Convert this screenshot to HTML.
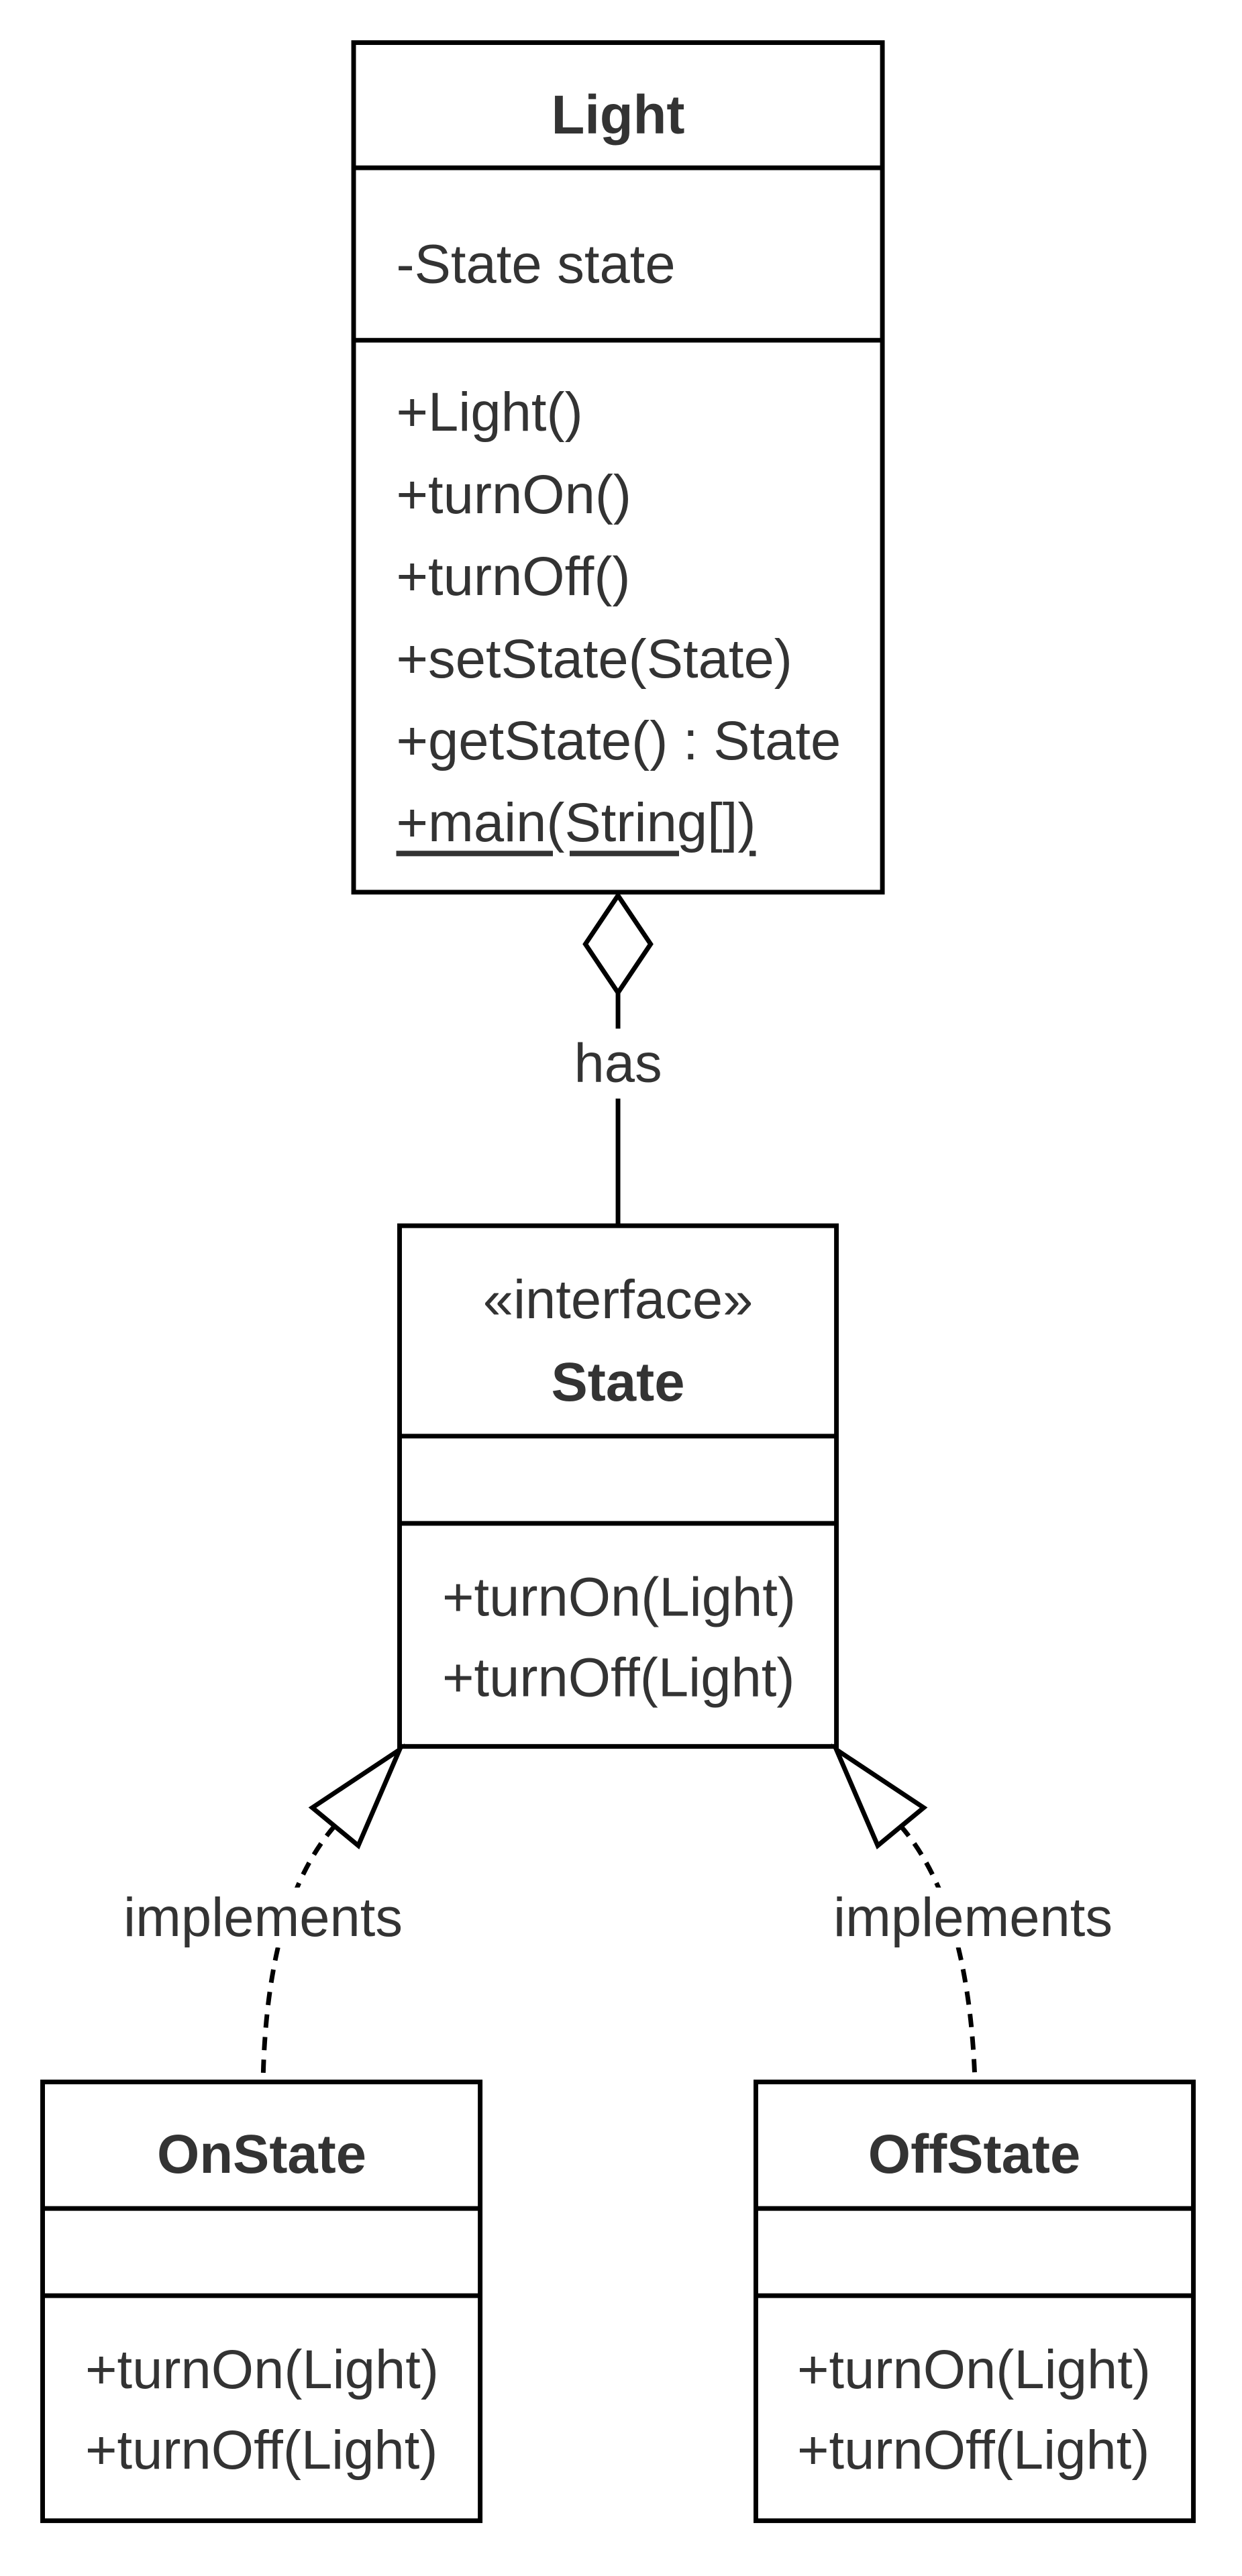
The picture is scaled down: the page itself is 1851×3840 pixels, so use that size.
<!DOCTYPE html>
<html><head><meta charset="utf-8"><style>
html,body{margin:0;padding:0;background:#fff;}
svg{display:block;}
text{font-family:"Liberation Sans",Arial,sans-serif;fill:#333;font-size:82px;dominant-baseline:central;}
.b{font-weight:bold;}
</style></head><body>
<svg width="1851" height="3840" viewBox="0 0 1851 3840" xmlns="http://www.w3.org/2000/svg">
<g transform="scale(0.9925)">
<g fill="none" stroke="#000" stroke-width="7">
<rect x="531" y="64" width="794" height="1276" fill="#fff"/>
<line x1="531" y1="252" x2="1325" y2="252"/>
<line x1="531" y1="511" x2="1325" y2="511"/>
<polygon points="928,1345 977,1418 928,1491 879,1418" fill="#fff"/>
<line x1="928" y1="1491" x2="928" y2="1545"/>
<line x1="928" y1="1650" x2="928" y2="1841"/>
<rect x="600" y="1841" width="656" height="782" fill="#fff"/>
<line x1="600" y1="2157" x2="1256" y2="2157"/>
<line x1="600" y1="2288" x2="1256" y2="2288"/>
<path d="M503,2742 Q400,2860 395,3127" stroke-dasharray="20,14"/>
<path d="M1352,2742 Q1455,2860 1464,3127" stroke-dasharray="20,14"/>
<polygon points="600,2628 469,2715 538,2772" fill="#fff"/>
<polygon points="1256,2628 1387,2715 1318,2772" fill="#fff"/>
<rect x="64" y="3127" width="657" height="659" fill="#fff"/>
<line x1="64" y1="3317" x2="721" y2="3317"/>
<line x1="64" y1="3448" x2="721" y2="3448"/>
<rect x="1135" y="3127" width="657" height="659" fill="#fff"/>
<line x1="1135" y1="3317" x2="1792" y2="3317"/>
<line x1="1135" y1="3448" x2="1792" y2="3448"/>
</g>
<text class="b" x="928" y="173" text-anchor="middle">Light</text>
<text x="595" y="397">-State state</text>
<text x="595" y="619">+Light()</text>
<text x="595" y="743">+turnOn()</text>
<text x="595" y="866">+turnOff()</text>
<text x="595" y="990">+setState(State)</text>
<text x="595" y="1113">+getState() : State</text>
<text x="595" y="1236" text-decoration="underline">+main(String[])</text>
<text x="928" y="1597" text-anchor="middle">has</text>
<text x="928" y="1952" text-anchor="middle">«interface»</text>
<text class="b" x="928" y="2076" text-anchor="middle">State</text>
<text x="664" y="2399">+turnOn(Light)</text>
<text x="664" y="2520">+turnOff(Light)</text>
<rect x="170" y="2835" width="450" height="90" fill="#fff"/>
<text x="395" y="2880" text-anchor="middle">implements</text>
<rect x="1236" y="2835" width="450" height="90" fill="#fff"/>
<text x="1461" y="2880" text-anchor="middle">implements</text>
<text class="b" x="393" y="3236" text-anchor="middle">OnState</text>
<text x="128" y="3559">+turnOn(Light)</text>
<text x="128" y="3680">+turnOff(Light)</text>
<text class="b" x="1463" y="3236" text-anchor="middle">OffState</text>
<text x="1197" y="3559">+turnOn(Light)</text>
<text x="1197" y="3680">+turnOff(Light)</text>
</g>
</svg>
</body></html>
